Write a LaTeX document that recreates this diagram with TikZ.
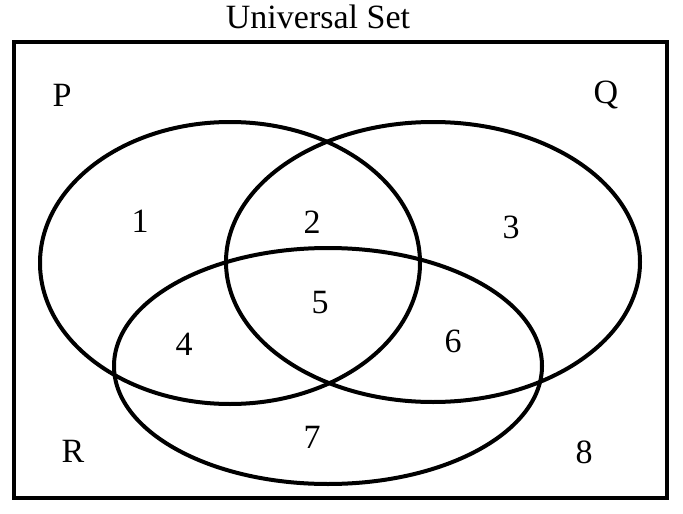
\documentclass[tikz,border=0pt]{standalone}
\usepackage{fontspec}
\setmainfont{Liberation Serif}
\begin{document}
\begin{tikzpicture}[x=1pt,y=-1pt,
  lbl/.style={font=\fontsize{34}{40}\selectfont, inner sep=0pt},
  setline/.style={line width=4pt}]
\useasboundingbox (0,0) rectangle (683,514);
\draw[setline] (14,42) rectangle (667,498);
\node[lbl] (title) at (318,17) {Universal Set};
\draw[setline] (230,263) ellipse [x radius=190, y radius=141];
\draw[setline] (433,262) ellipse [x radius=207, y radius=140];
\draw[setline] (328,366) ellipse [x radius=214, y radius=118];
\node[lbl] (P) at (62,95) {P};
\node[lbl] (Q) at (606,95) {Q};
\node[lbl] (R) at (73,451) {R};
\node[lbl] (n1) at (140,221) {1};
\node[lbl] (n2) at (312,222) {2};
\node[lbl] (n3) at (511,227) {3};
\node[lbl] (n4) at (184,344) {4};
\node[lbl] (n5) at (320,303) {5};
\node[lbl] (n6) at (453,341) {6};
\node[lbl] (n7) at (312,437) {7};
\node[lbl] (n8) at (584,452) {8};
\end{tikzpicture}
\end{document}
